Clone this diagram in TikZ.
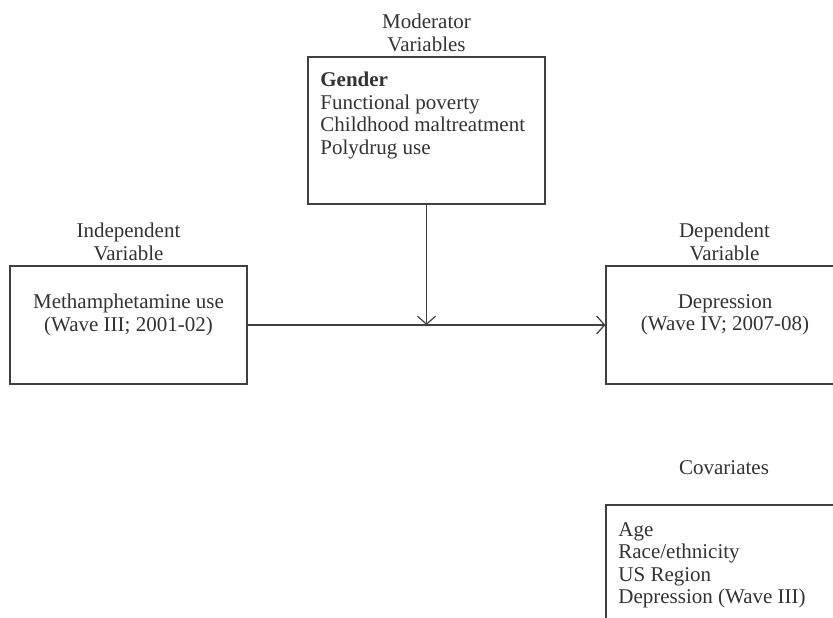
\documentclass[tikz,border=0pt]{standalone}
\usepackage{fontspec}
\setmainfont{Liberation Serif}
\usetikzlibrary{arrows.meta}
\tikzset{
  varbox/.style={draw=black!75, line width=0.6pt, inner sep=0pt},
  boxtext/.style={align=center, text=black!80, inner sep=0pt},
  listtext/.style={align=left, anchor=north west, text=black!80, inner sep=0pt},
  headtext/.style={align=center, text=black!80, inner sep=0pt},
  link/.style={draw=black!75, line width=0.6pt, -{Straight Barb[length=4pt,width=9pt]}}
}
\begin{document}
\begin{tikzpicture}[x=0.5pt, y=-0.5pt, font=\fontsize{10.5}{11.25}\selectfont]
      \useasboundingbox (0,0) rectangle (833,617);
      \clip (0,0) rectangle (833,617);
      \fill[white] (0,0) rectangle (833,617);
      % boxes
      \node[varbox, minimum width=118.5pt, minimum height=73.5pt] (moder) at (426.5,130.5) {};
      \node[varbox, minimum width=118.5pt, minimum height=59pt] (indep) at (128.5,325) {};
      \node[varbox, minimum width=137pt, minimum height=59pt] (dep) at (743,325) {};
      \node[varbox, minimum width=137pt, minimum height=77.5pt] (covar) at (743,582.5) {};
      % headings
      \node[headtext] (moderhead) at (426.5,33) {Moderator\\Variables};
      \node[headtext] (indephead) at (128.5,242) {Independent\\Variable};
      \node[headtext] (dephead) at (724.5,242) {Dependent\\Variable};
      \node[headtext] (covarhead) at (724,468) {Covariates};
      % box contents
      \node[listtext] (modertext) at (320,72) {\textbf{Gender}\\Functional poverty\\Childhood maltreatment\\Polydrug use};
      \node[boxtext] (indeptext) at (128.5,315) {Methamphetamine use\\(Wave III; 2001-02)};
      \node[boxtext] (deptext) at (725,315) {Depression\\(Wave IV; 2007-08)};
      \node[listtext] (covartext) at (618,522) {Age\\Race/ethnicity\\US Region\\Depression (Wave III)};
      \begin{scope}[link]
        \draw (indep.east) -- (dep.west);
        \draw (moder.south) -- (moder.south |- indep.east);
      \end{scope}
    \end{tikzpicture}
\end{document}
